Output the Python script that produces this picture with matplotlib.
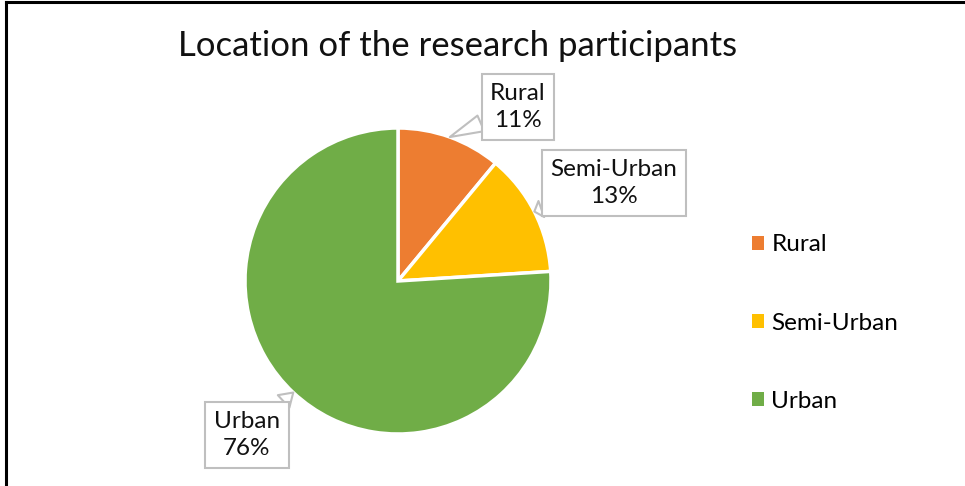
import matplotlib.pyplot as plt
import numpy as np
from matplotlib.lines import Line2D

plt.rcParams['font.family'] = ['Lato', 'DejaVu Sans']

locations = ['Rural', 'Semi-Urban', 'Urban']
shares = [11, 13, 76]
colors = ['#ED7D31', '#FFC000', '#70AD47']
# where each callout box sits (pie radius = 1, pie centre = 0,0)
label_pos = [(0.784, 1.137), (1.412, 0.641), (-0.987, -1.007)]

W, H = 965, 486
cx, cy, R = 398, 281, 153

fig = plt.figure(figsize=(W / 100, H / 100), dpi=100)
ax = fig.add_axes([0, 0, 1, 1])

wedges, _ = ax.pie(shares, colors=colors, startangle=90, counterclock=False,
                   radius=1, wedgeprops=dict(edgecolor='white', linewidth=2.5))
# pie() resets the limits, so put the pixel-matched ones back afterwards
ax.set_xlim(-cx / R, (W - cx) / R)
ax.set_ylim(-(H - cy) / R, cy / R)
ax.axis('off')

total = sum(shares)
start = 90
for w, name, val, pos in zip(wedges, locations, shares, label_pos):
    mid = np.deg2rad(start - val / total * 360 / 2)
    start -= val / total * 360
    tip = (np.cos(mid), np.sin(mid))
    ax.annotate(f'{name}\n{val}%', xy=tip, xytext=pos, ha='center', va='center',
                fontsize=17.5, color='#111111', linespacing=1.4,
                bbox=dict(boxstyle='square,pad=0.35', fc='white', ec='#bfbfbf', lw=1.5),
                arrowprops=dict(arrowstyle='wedge,tail_width=0.7,shrink_factor=0.5',
                                fc='white', ec='#bfbfbf', lw=1.5, shrinkA=0, shrinkB=0))

leg = ax.legend(wedges, locations, loc='center left', bbox_to_anchor=(752 / W, 1 - 323 / H),
                bbox_transform=fig.transFigure, frameon=False, fontsize=17.5,
                handlelength=0.5, handleheight=0.5, handletextpad=0.3,
                labelspacing=2.35, borderpad=0, borderaxespad=0)
for h in leg.legend_handles:
    h.set_edgecolor('none')

fig.text(458 / W, 1 - 46 / H, 'Location of the research participants',
         ha='center', va='center', fontsize=25, color='#111111')

# chart frame: top and left edges only
fig.add_artist(Line2D([6 / W, 6 / W], [0, 1 - 2 / H], transform=fig.transFigure,
                      color='black', lw=2.2))
fig.add_artist(Line2D([6 / W, 1], [1 - 2 / H, 1 - 2 / H], transform=fig.transFigure,
                      color='black', lw=2.2))

fig.savefig('out.png', dpi=100)
